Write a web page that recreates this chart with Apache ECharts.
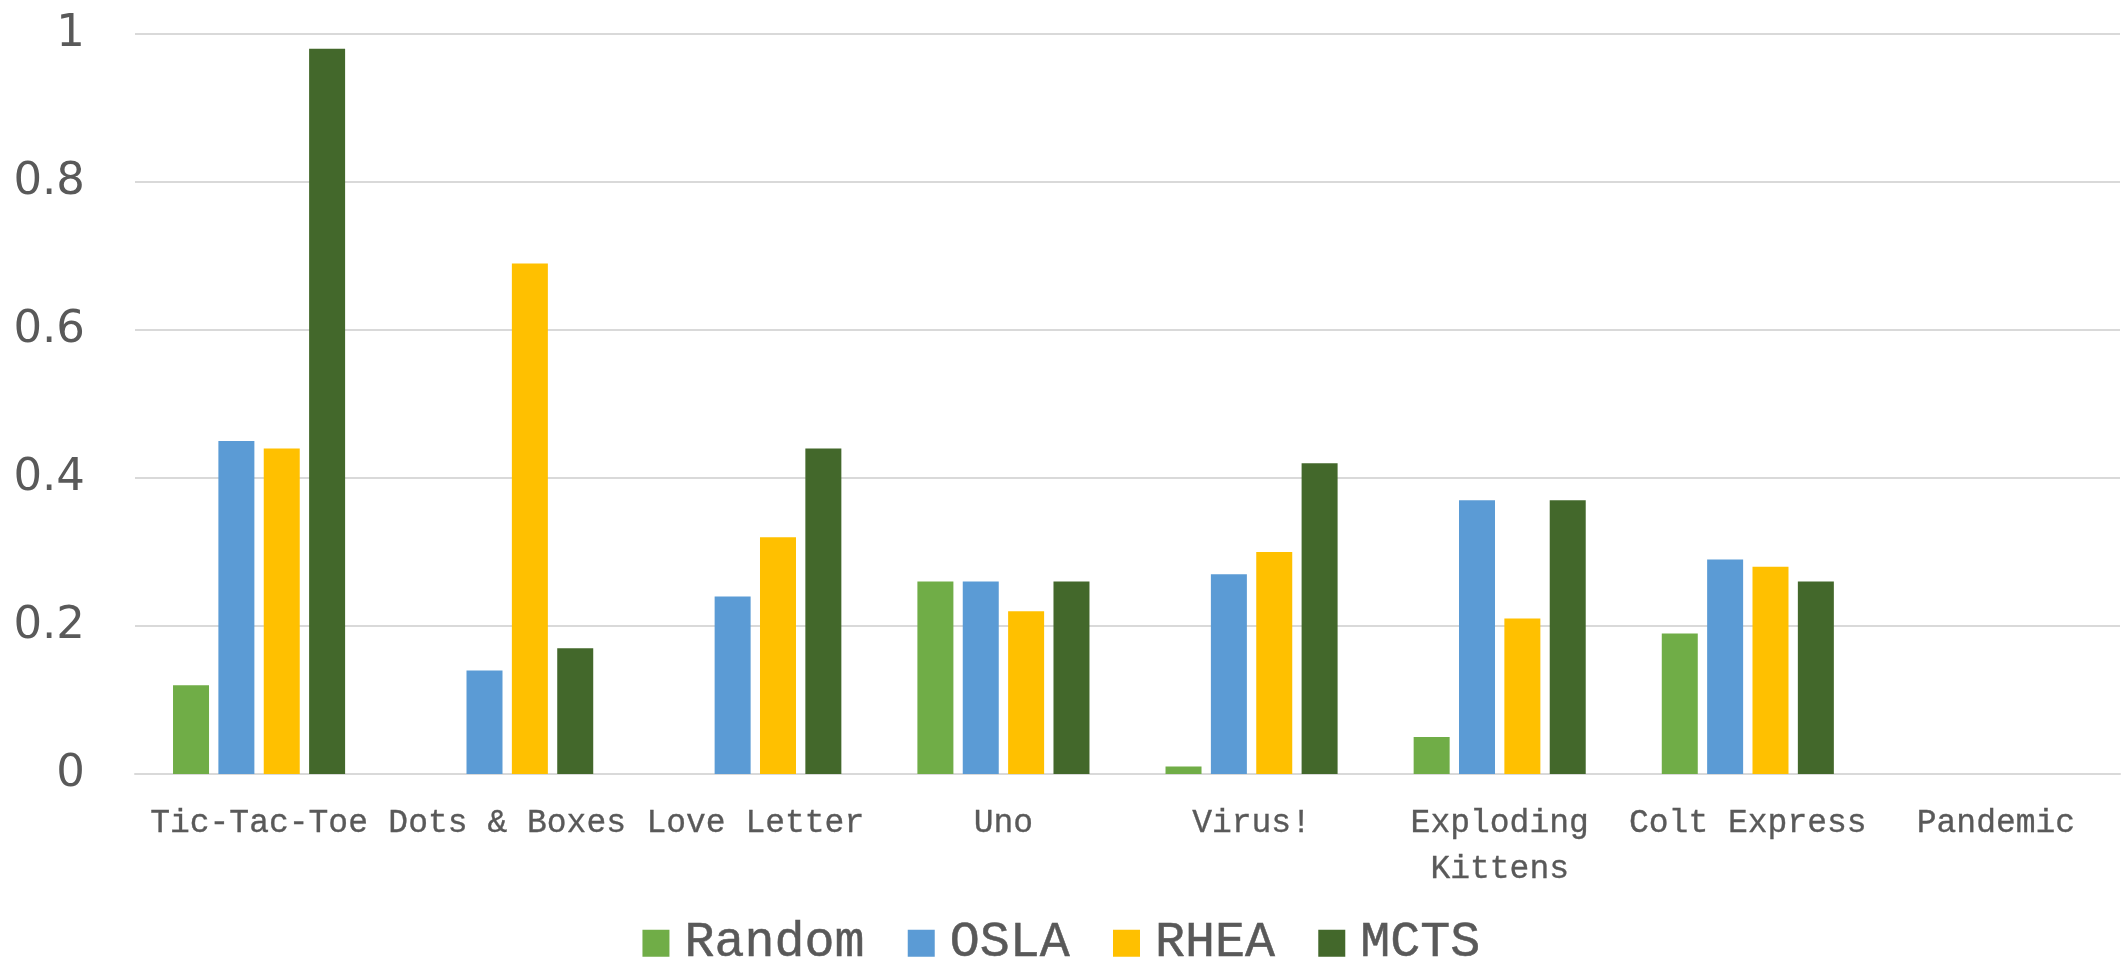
<!DOCTYPE html>
<html>
<head>
<meta charset="utf-8">
<script src="https://cdn.jsdelivr.net/npm/echarts@6/dist/echarts.min.js"></script>
<style>
html,body{margin:0;padding:0;background:#fff;}
#chart{width:2123px;height:963px;}
</style>
</head>
<body>
<div id="chart"></div>
<script>
const categories = ['Tic-Tac-Toe', 'Dots & Boxes', 'Love Letter', 'Uno', 'Virus!', 'Exploding Kittens', 'Colt Express', 'Pandemic'];
const seriesNames = ['Random', 'OSLA', 'RHEA', 'MCTS'];
const randomValues = [0.12, 0, 0, 0.26, 0.01, 0.05, 0.19, 0];
const oslaValues = [0.45, 0.14, 0.24, 0.26, 0.27, 0.37, 0.29, 0];
const rheaValues = [0.44, 0.69, 0.32, 0.22, 0.30, 0.21, 0.28, 0];
const mctsValues = [0.98, 0.17, 0.44, 0.26, 0.42, 0.37, 0.26, 0];
const yTicks = [0, 0.2, 0.4, 0.6, 0.8, 1];

const colors = ['#70AD47', '#5B9BD5', '#FFC000', '#43682B'];
const allValues = [randomValues, oslaValues, rheaValues, mctsValues];

const chart = echarts.init(document.getElementById('chart'), null, {renderer: 'canvas'});
chart.setOption({
  animation: false,
  color: colors,
  grid: {left: 135, right: 3, top: 34, bottom: 189, containLabel: false},
  legend: {
    data: seriesNames,
    top: 913,
    left: 'center',
    icon: 'rect',
    itemWidth: 27,
    itemHeight: 27,
    itemGap: 43,
    textStyle: {fontFamily: 'Liberation Mono', fontSize: 50, color: '#595959', padding: [0, 0, 0, 10],
      textBorderColor: '#595959', textBorderWidth: 0.5}
  },
  xAxis: {
    type: 'category',
    data: categories,
    axisTick: {show: false},
    axisLine: {lineStyle: {color: '#d9d9d9', width: 2}},
    axisLabel: {
      interval: 0,
      margin: 26,
      fontFamily: 'Liberation Mono',
      fontSize: 33,
      lineHeight: 46,
      color: '#595959',
      textBorderColor: '#595959',
      textBorderWidth: 0.35,
      formatter: v => v.length > 14 ? v.replace(' ', '\n') : v
    }
  },
  yAxis: {
    type: 'value',
    min: yTicks[0],
    max: yTicks[yTicks.length - 1],
    interval: 0.2,
    axisLine: {show: false},
    axisTick: {show: false},
    splitLine: {lineStyle: {color: '#d9d9d9', width: 2}},
    axisLabel: {
      margin: 50,
      fontFamily: 'DejaVu Sans',
      fontSize: 45,
      color: '#595959',
      padding: [0, 0, 14, 0]
    }
  },
  series: seriesNames.map((name, i) => ({
    name: name,
    type: 'bar',
    data: allValues[i],
    barWidth: 36,
    barGap: '26%',
    itemStyle: {color: colors[i]}
  }))
});
</script>
</body>
</html>
